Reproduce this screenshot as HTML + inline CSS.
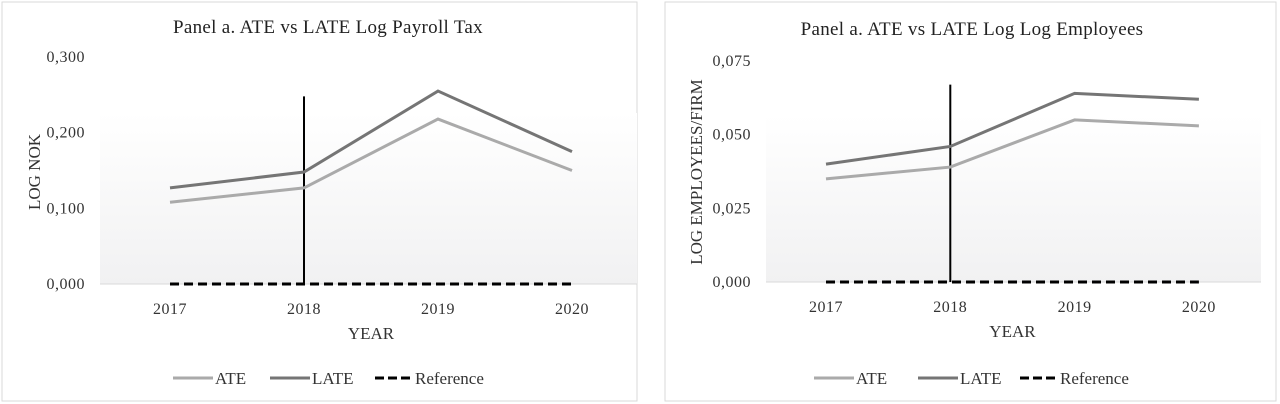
<!DOCTYPE html>
<html><head><meta charset="utf-8"><style>
body{margin:0;background:#fff;}
svg{display:block;font-family:"Liberation Serif",serif;}
</style></head><body>
<svg id="s" width="1280" height="404" viewBox="0 0 1280 404">
<defs><linearGradient id="g" x1="0" y1="0" x2="0" y2="1"><stop offset="0" stop-color="#fff"/><stop offset="1" stop-color="#f1f1f2"/></linearGradient></defs>
</svg>
<script>
const years=["2017","2018","2019","2020"];
const ateA=[0.108,0.127,0.218,0.150];
const lateA=[0.127,0.148,0.255,0.175];
const refA=[0,0,0,0];
const vlineA=0.248;
const ticksA=["0,000","0,100","0,200","0,300"];
const tickValsA=[0,0.1,0.2,0.3];
const ateB=[0.035,0.039,0.055,0.053];
const lateB=[0.040,0.046,0.064,0.062];
const refB=[0,0,0,0];
const vlineB=0.067;
const ticksB=["0,000","0,025","0,050","0,075"];
const tickValsB=[0,0.025,0.05,0.075];
const NS="http://www.w3.org/2000/svg";
const svg=document.getElementById('s');
function mk(t,a,p){const e=document.createElementNS(NS,t);for(const k in a)e.setAttribute(k,a[k]);(p||svg).appendChild(e);return e;}
function panel(c){
  const g=mk('g',{});
  
  
  const fr=mk('rect',{x:c.bx,y:2,width:c.bw,height:399,fill:'#fff',stroke:'#d9d9d9','stroke-width':1},g);
  
  
  const y=v=>c.y0-(v/c.ymax)*(c.y0-c.ytop);
  const x=i=>c.x0+i*c.dx;
  const bg=mk('rect',{x:c.px0,y:c.gy,width:c.px1-c.px0,height:c.y0-c.gy,fill:'url(#g)'},g);
  
  
  const ax=mk('line',{x1:c.px0,x2:c.px1,y1:c.y0,y2:c.y0,stroke:'#d9d9d9','stroke-width':1},g);
  
  
  const t=mk('text',{x:c.tx,y:c.ty,'font-size':19,'text-anchor':'middle',fill:'#222','letter-spacing':0.3},g);
  t.textContent=c.title;
  
  
  c.tickVals.forEach((v,i)=>{const e=mk('text',{x:c.px0-15,y:y(v)+5,'font-size':16,'text-anchor':'end',fill:'#333','letter-spacing':0.5},g);e.textContent=c.ticks[i];
    
    });
  years.forEach((yr,i)=>{const e=mk('text',{x:x(i),y:c.y0+30,'font-size':16,'text-anchor':'middle',fill:'#333','letter-spacing':0.5},g);e.textContent=yr;
    
    });
  const xt=mk('text',{x:(x(0)+x(3))/2,y:c.y0+55,'font-size':17,'text-anchor':'middle',fill:'#333'},g);xt.textContent='YEAR';
  
  
  const yt=mk('text',{x:0,y:0,'font-size':17,'text-anchor':'middle',fill:'#333',transform:`translate(${c.ytx},${c.yty}) rotate(-90)`},g);yt.textContent=c.ytitle;
  
  
  const line=(arr,col,w,dash,name)=>{const p=mk('polyline',{points:arr.map((v,i)=>x(i)+','+y(v)).join(' '),fill:'none',stroke:col,'stroke-width':w,'stroke-dasharray':dash||'none'},g);
    
    };
  line(c.ref,'#000',3,'9,5','reference-series');
  const vl=mk('line',{x1:x(1),x2:x(1),y1:y(c.vline),y2:c.y0,stroke:'#000','stroke-width':2},g);
  
  
  line(c.ate,'#aaaaaa',3,null,'ate-series');
  line(c.late,'#757575',3,null,'late-series');
  const ly=378;
  const L=c.lx;
  const items=[['ATE','#aaaaaa',null,0,40],['LATE','#757575',null,c.l2,40],['Reference','#000','9,4',c.l3,38]];
  items.forEach(([nm,col,d,off,w])=>{
    const le=mk('g',{},g);
    
    
    mk('line',{x1:L+off,x2:L+off+w,y1:ly,y2:ly,stroke:col,'stroke-width':3,'stroke-dasharray':d||'none'},le);
    const tx=mk('text',{x:L+off+w+2,y:ly+6,'font-size':17,fill:'#333'},le);tx.textContent=nm;
  });
}
panel({name:'payroll-tax-chart',bx:2,bw:635,px0:100,px1:637,gy:113,y0:284,ytop:57,ymax:0.3,x0:170,dx:134,tx:328,ty:33,title:'Panel a. ATE vs LATE Log Payroll Tax',ytitle:'LOG NOK',ytx:40,yty:172,ticks:ticksA,tickVals:tickValsA,ate:ateA,late:lateA,ref:refA,vline:vlineA,lx:173,l2:97,l3:202});
panel({name:'employees-chart',bx:665,bw:611,px0:766,px1:1261,gy:115,y0:282,ytop:61,ymax:0.075,x0:826,dx:124.3,tx:972,ty:35,title:'Panel a. ATE vs LATE Log Log Employees',ytitle:'LOG EMPLOYEES/FIRM',ytx:702,yty:172,ticks:ticksB,tickVals:tickValsB,ate:ateB,late:lateB,ref:refB,vline:vlineB,lx:814,l2:104,l3:206});
</script>
</body></html>
